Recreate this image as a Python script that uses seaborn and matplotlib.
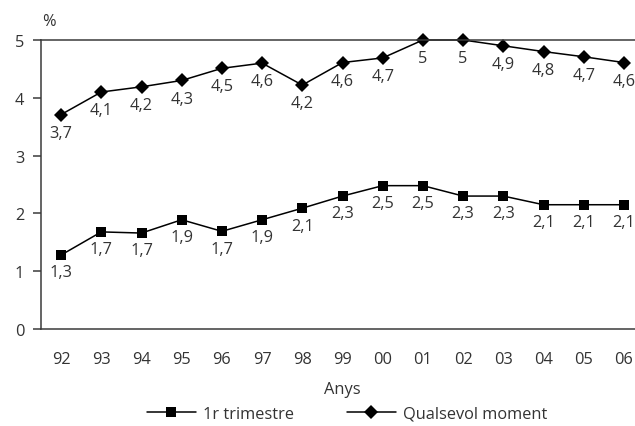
import matplotlib
matplotlib.use("Agg")
import matplotlib.pyplot as plt
import seaborn as sns
import pandas as pd
import numpy as np

years = ["92", "93", "94", "95", "96", "97", "98", "99", "00", "01", "02", "03", "04", "05", "06"]
trimestre = [1.28, 1.68, 1.66, 1.89, 1.69, 1.89, 2.09, 2.30, 2.48, 2.48, 2.30, 2.30, 2.15, 2.15, 2.15]
trimestre_labels = ["1,3", "1,7", "1,7", "1,9", "1,7", "1,9", "2,1", "2,3", "2,5", "2,5", "2,3", "2,3", "2,1", "2,1", "2,1"]
qualsevol = [3.71, 4.10, 4.19, 4.30, 4.51, 4.60, 4.22, 4.61, 4.69, 5.0, 5.0, 4.90, 4.80, 4.71, 4.61]
qualsevol_labels = ["3,7", "4,1", "4,2", "4,3", "4,5", "4,6", "4,2", "4,6", "4,7", "5", "5", "4,9", "4,8", "4,7", "4,6"]
series_names = ["1r trimestre", "Qualsevol moment"]
y_ticks = [0, 1, 2, 3, 4, 5]

sns.set_theme(style="white")
plt.rcParams['font.family'] = ['Open Sans', 'DejaVu Sans']
TXT = "#333333"
AX = "#3a3a3a"
FS = 11.8

pos = list(range(len(years)))
df = pd.DataFrame({
    "pos": pos + pos,
    "val": trimestre + qualsevol,
    "serie": [series_names[0]] * len(years) + [series_names[1]] * len(years),
})

fig = plt.figure(figsize=(6.35, 4.27), dpi=100)
ax = fig.add_axes([41 / 635, 97 / 427, 603 / 635, 289 / 427])

sns.lineplot(data=df, x="pos", y="val", hue="serie", style="serie",
             markers={series_names[0]: "s", series_names[1]: "D"},
             dashes=False, palette=["black", "black"], linewidth=1.1,
             markersize=7.3, markeredgewidth=0, ax=ax, legend=True, clip_on=False)

for x, v, lab in zip(pos, trimestre, trimestre_labels):
    ax.annotate(lab, (x, v), xytext=(0, -12.5), textcoords="offset points",
                ha="center", va="center", fontsize=FS, color=TXT)
for x, v, lab in zip(pos, qualsevol, qualsevol_labels):
    ax.annotate(lab, (x, v), xytext=(0, -13), textcoords="offset points",
                ha="center", va="center", fontsize=FS, color=TXT)

ax.set_xlim(-0.5, len(years) - 0.5)
ax.set_ylim(0, 5)
ax.set_yticks(y_ticks)
ax.set_yticklabels([str(t) for t in y_ticks], fontsize=FS, color=TXT)
ax.set_xticks(pos)
ax.set_xticklabels(years, fontsize=FS, color=TXT)
ax.set_xticks(np.arange(-0.5, len(years), 1.0), minor=True)
ax.tick_params(axis="x", which="major", length=0, pad=16)
ax.tick_params(axis="x", which="minor", length=8, width=1.1, color=AX, direction="out")
ax.tick_params(axis="y", which="major", length=6, width=1.1, color=AX, direction="out", pad=6, left=True)
ax.set_xlabel("Anys", fontsize=FS, color=TXT, labelpad=10)
ax.set_ylabel("")
for s in ["left", "bottom", "top"]:
    ax.spines[s].set_color(AX)
    ax.spines[s].set_linewidth(1.1)
ax.spines["right"].set_visible(False)
ax.grid(False)

fig.text(49 / 635, 1 - 22 / 427, "%", fontsize=FS, color=TXT, ha="center", va="center")

handles, labels = ax.get_legend_handles_labels()
ax.get_legend().remove()
leg = fig.legend(handles, labels, loc="center", bbox_to_anchor=(347 / 635, 12 / 427),
                 ncol=2, frameon=False, fontsize=FS, handlelength=3.0,
                 handletextpad=0.45, columnspacing=3.2, labelcolor=TXT)

fig.savefig("out.png", dpi=100)
